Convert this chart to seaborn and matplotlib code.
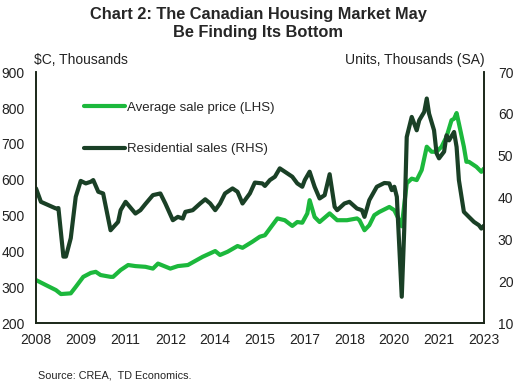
import pandas as pd
import seaborn as sns
import matplotlib.pyplot as plt
import matplotlib.dates as mdates

sns.set_style("white")
plt.rcParams['font.family'] = ['Liberation Sans', 'DejaVu Sans']

# Average sale price, $C thousands (LHS)
price_dates = ['2008-01', '2008-05', '2008-09', '2008-11', '2009-03', '2009-05', '2009-08', '2009-11',
               '2010-01', '2010-03', '2010-07', '2010-08', '2010-11', '2011-02', '2011-05', '2011-09',
               '2011-12', '2012-02', '2012-07', '2012-10', '2013-02', '2013-08', '2014-01', '2014-03',
               '2014-06', '2014-10', '2014-12', '2015-04', '2015-07', '2015-09', '2015-12', '2016-02',
               '2016-05', '2016-08', '2016-10', '2016-12', '2017-02', '2017-03', '2017-05', '2017-07',
               '2017-11', '2018-02', '2018-06', '2018-10', '2018-11', '2019-01', '2019-03', '2019-05',
               '2019-07', '2019-11', '2020-01', '2020-03', '2020-04', '2020-06', '2020-08', '2020-10',
               '2020-12', '2021-02', '2021-04', '2021-06', '2021-08', '2021-10', '2021-12', '2022-01',
               '2022-02', '2022-03', '2022-05', '2022-06', '2022-07', '2022-10', '2022-12', '2023-01']
price_vals = [320, 306, 292, 281, 283, 301, 329, 340,
              343, 334, 329, 329, 348, 362, 359, 357,
              352, 366, 352, 359, 362, 385, 401, 390,
              399, 415, 410, 427, 441, 445, 473, 492,
              487, 471, 482, 480, 506, 543, 496, 482,
              506, 487, 487, 492, 487, 459, 473, 501,
              510, 524, 515, 487, 470, 590, 603, 599,
              627, 692, 678, 678, 692, 720, 766, 770,
              786, 757, 692, 650, 650, 636, 622, 631]

# Residential sales, units thousands SA (RHS)
sales_dates = ['2008-01', '2008-03', '2008-09', '2008-10', '2008-12', '2009-01', '2009-03', '2009-05',
               '2009-07', '2009-09', '2009-11', '2009-12', '2010-02', '2010-04', '2010-07', '2010-10',
               '2010-11', '2011-01', '2011-05', '2011-07', '2011-09', '2011-12', '2012-03', '2012-05',
               '2012-08', '2012-10', '2012-12', '2013-01', '2013-04', '2013-07', '2013-09', '2013-11',
               '2014-01', '2014-03', '2014-05', '2014-08', '2014-10', '2014-12', '2015-03', '2015-05',
               '2015-08', '2015-09', '2015-11', '2016-01', '2016-03', '2016-06', '2016-08', '2016-10',
               '2016-12', '2017-01', '2017-03', '2017-05', '2017-07', '2017-09', '2017-11', '2018-01',
               '2018-02', '2018-05', '2018-07', '2018-10', '2018-12', '2019-01', '2019-03', '2019-06',
               '2019-09', '2019-11', '2019-12', '2020-01', '2020-02', '2020-04', '2020-05', '2020-06',
               '2020-08', '2020-10', '2020-11', '2021-01', '2021-02', '2021-03', '2021-05', '2021-06',
               '2021-07', '2021-09', '2021-10', '2021-11', '2022-01', '2022-02', '2022-03', '2022-05',
               '2022-07', '2022-09', '2022-11', '2022-12', '2023-01']
sales_vals = [42.2, 39.0, 37.4, 37.5, 25.9, 25.9, 30.3, 40.2,
              44.0, 43.4, 43.8, 44.2, 41.4, 41.0, 32.2, 34.2,
              37.0, 39.0, 36.2, 37.0, 38.5, 40.6, 41.0, 38.6,
              34.6, 35.4, 35.0, 36.6, 37.0, 38.6, 39.6, 38.6,
              37.0, 38.6, 41.0, 42.2, 41.4, 38.6, 41.0, 43.6,
              43.4, 42.8, 44.2, 45.0, 47.0, 45.8, 45.0, 43.4,
              42.6, 44.2, 46.2, 42.6, 39.8, 40.6, 45.6, 37.8,
              37.0, 38.6, 39.0, 37.4, 37.0, 35.4, 39.4, 42.6,
              43.5, 43.4, 41.8, 42.6, 40.2, 16.3, 32.2, 54.5,
              59.3, 56.1, 58.5, 60.5, 63.7, 60.1, 56.1, 50.6,
              49.4, 51.0, 54.9, 53.7, 55.7, 52.1, 44.2, 36.6,
              35.4, 34.2, 33.4, 32.6, 33.3]

price_df = pd.DataFrame({'date': pd.to_datetime(price_dates), 'value': price_vals})
sales_df = pd.DataFrame({'date': pd.to_datetime(sales_dates), 'value': sales_vals})

light_green = '#1cb83c'
dark_green = '#1a4026'
spine_col = '#1a2618'

fig = plt.figure(figsize=(5.16, 3.86), dpi=100)
ax = fig.add_axes([0.0698, 0.163, 0.868, 0.650])
ax2 = ax.twinx()

sns.lineplot(data=price_df, x='date', y='value', ax=ax, color=light_green, linewidth=3,
             label='Average sale price (LHS)', legend=False)
sns.lineplot(data=sales_df, x='date', y='value', ax=ax2, color=dark_green, linewidth=3,
             label='Residential sales (RHS)', legend=False)

ax.set_ylim(200, 900)
ax2.set_ylim(10, 70)
ax.set_yticks(range(200, 901, 100))
ax2.set_yticks(range(10, 71, 10))
ax.set_xlim(pd.Timestamp('2008-01-01'), pd.Timestamp('2023-01-01'))
ax.set_xticks(pd.date_range('2008-01-01', '2023-01-01', freq='18MS'))
ax.xaxis.set_major_formatter(mdates.DateFormatter('%Y'))

for a in (ax, ax2):
    a.set_xlabel('')
    a.set_ylabel('')
    a.grid(False)
    a.spines['top'].set_visible(False)
    for s in ('left', 'right', 'bottom'):
        a.spines[s].set_color(spine_col)
        a.spines[s].set_linewidth(1.2)
    a.tick_params(length=0, labelsize=10, colors='#222222')
ax.tick_params(axis='x', pad=7)
ax.tick_params(axis='y', pad=8)
ax2.tick_params(axis='y', pad=10)

# legend
h1, l1 = ax.get_legend_handles_labels()
h2, l2 = ax2.get_legend_handles_labels()
ax.legend(h1 + h2, l1 + l2, loc='upper left', bbox_to_anchor=(0.08, 0.93), frameon=False,
          fontsize=9.5, handlelength=3.1, handletextpad=0.15, labelspacing=2.2)

fig.text(0.5, 0.982, 'Chart 2: The Canadian Housing Market May\nBe Finding Its Bottom',
         ha='center', va='top', fontsize=11.8, fontweight='bold', linespacing=1.22)
fig.text(0.066, 0.835, '$C, Thousands', ha='left', va='baseline', fontsize=10, color='#222222')
fig.text(0.94, 0.835, 'Units, Thousands (SA)', ha='right', va='baseline', fontsize=10, color='#222222')
fig.text(0.074, 0.02, 'Source: CREA,  TD Economics.', ha='left', va='baseline', fontsize=7.8, color='#222222')

fig.savefig('out.png', dpi=100)
